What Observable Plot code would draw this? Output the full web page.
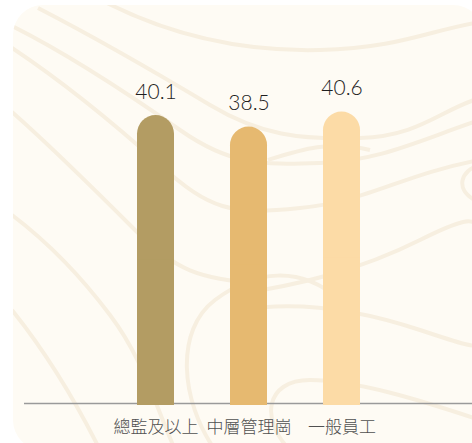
<!DOCTYPE html>
<html>
<head>
<meta charset="utf-8">
<script src="https://cdn.jsdelivr.net/npm/d3@7"></script>
<script src="https://cdn.jsdelivr.net/npm/@observablehq/plot@0.6"></script>
<style>
  html, body { margin: 0; padding: 0; background: #ffffff; }
  #chart svg { display: block; }
</style>
</head>
<body>
<div id="chart"></div>
<script>
const categories = ["總監及以上", "中層管理崗", "一般員工"];
const values = [40.1, 38.5, 40.6];
const colors = ["#b39c63", "#e6b970", "#fcdba6"];

const data = categories.map((c, i) => ({category: c, value: values[i], color: colors[i]}));

const chart = Plot.plot({
  width: 472,
  height: 443,
  marginTop: 44,
  marginBottom: 40,
  marginLeft: 24,
  marginRight: 0,
  style: {background: "transparent", overflow: "visible"},
  x: {domain: categories, range: [80, 417], padding: 0.6, label: null},
  y: {domain: [0, 50], axis: null},
  marks: [
    Plot.ruleY([0], {stroke: "#9a9a9a", strokeWidth: 1.6}),
    Plot.barY(data, {x: "category", y: "value", fill: "color", rx: 18.7, insetBottom: -2}),
    Plot.barY(data, {x: "category", y1: 0, y2: d => d.value / 2, fill: "color", insetBottom: -2}),
    Plot.text(data, {
      x: "category", y: "value", text: d => d.value.toFixed(1),
      dy: -17, lineAnchor: "bottom", fontSize: 21, fontWeight: 300, fill: "#1e1e1e",
      fontFamily: "Lato, 'Noto Sans', sans-serif"
    }),
    Plot.axisX({
      tickSize: 0, tickPadding: 17, fontSize: 17, fontWeight: 300, fill: "#505050",
      fontFamily: "'Noto Sans CJK TC', sans-serif", label: null
    })
  ]
});

// decorative card background with soft contour lines
const ns = "http://www.w3.org/2000/svg";
const g = document.createElementNS(ns, "g");
const clipId = "cardclip";
const defs = document.createElementNS(ns, "defs");
const clip = document.createElementNS(ns, "clipPath");
clip.setAttribute("id", clipId);
const clipRect = document.createElementNS(ns, "rect");
const cardAttrs = {x: 13, y: 5, width: 470, height: 445, rx: 30, ry: 30};
for (const k in cardAttrs) clipRect.setAttribute(k, cardAttrs[k]);
clip.appendChild(clipRect);
defs.appendChild(clip);
g.appendChild(defs);
const card = document.createElementNS(ns, "rect");
for (const k in cardAttrs) card.setAttribute(k, cardAttrs[k]);
card.setAttribute("fill", "#fefbf4");
g.appendChild(card);
const lines = document.createElementNS(ns, "g");
lines.setAttribute("clip-path", `url(#${clipId})`);
lines.setAttribute("fill", "none");
lines.setAttribute("stroke", "#f7efe0");
lines.setAttribute("stroke-width", "4");
const paths = [
  "M 105 2 C 170 35, 240 52, 320 50 S 430 30, 480 22",
  "M 38 8 C 100 40, 160 75, 210 105 S 300 140, 360 138 S 440 110, 480 98",
  "M 12 26 C 70 55, 130 95, 180 130 S 260 165, 320 163 S 420 140, 480 120",
  "M 12 48 C 60 80, 110 120, 160 165 S 230 215, 300 208 S 400 175, 480 160",
  "M 12 112 C 55 150, 95 190, 135 230 S 200 280, 260 283",
  "M 12 215 C 45 240, 80 275, 110 315 S 150 390, 175 450",
  "M 12 310 C 40 345, 70 390, 100 450",
  "M 215 450 C 180 400, 175 330, 215 300 S 300 265, 340 300",
  "M 268 160 C 300 150, 330 140, 370 150",
  "M 232 295 C 300 285, 360 270, 420 240 S 470 225, 480 225",
  "M 240 310 C 300 300, 360 310, 420 330 S 470 345, 480 345",
  "M 290 450 C 260 420, 265 380, 310 380 S 420 400, 480 420",
  "M 480 165 C 460 170, 455 190, 475 200",
  "M 232 222 C 250 230, 255 255, 232 258"
];
for (const d of paths) {
  const p = document.createElementNS(ns, "path");
  p.setAttribute("d", d);
  lines.appendChild(p);
}
g.appendChild(lines);
chart.insertBefore(g, chart.firstChild);

document.getElementById("chart").appendChild(chart);
</script>
</body>
</html>
